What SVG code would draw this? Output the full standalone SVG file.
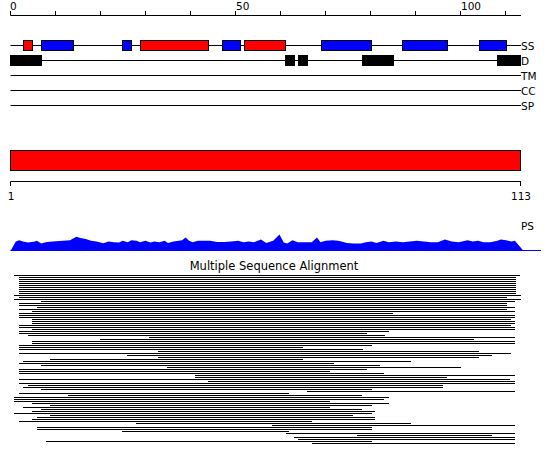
<svg xmlns="http://www.w3.org/2000/svg" width="550" height="465" viewBox="0 0 550 465">
<style>
text{font-family:"DejaVu Sans","Liberation Sans",sans-serif;fill:#000}
.lbl{font-size:10.5px}
.ttl{font-size:11.5px}
.ln{stroke:#000;stroke-width:1;fill:none}
.red{fill:#ff0000;stroke:#000;stroke-width:1}
.blue{fill:#0000ff;stroke:#000;stroke-width:1}
.dis{fill:#000}
</style>
<rect width="550" height="465" fill="#fff"/>
<g id="ruler-top">
<path class="ln" d="M10.5 15.5H521M10.5 11V15.5M55.5 11V15.5M100.5 11V15.5M145.5 11V15.5M190.5 11V15.5M235.5 11V15.5M280.5 11V15.5M325.5 11V15.5M370.5 11V15.5M415.5 11V15.5M460.5 11V15.5M505.5 11V15.5"/>
<text class="lbl" x="10" y="10">0</text>
<text class="lbl" x="236" y="10">50</text>
<text class="lbl" x="461" y="10">100</text>
</g>
<g id="track-ss">
<path class="ln" d="M10.5 45.5H521"/>
<rect class="red" x="23.5" y="40.5" width="9" height="10"/>
<rect class="blue" x="41.5" y="40.5" width="32" height="10"/>
<rect class="blue" x="122.5" y="40.5" width="9" height="10"/>
<rect class="red" x="140.5" y="40.5" width="68" height="10"/>
<rect class="blue" x="222.5" y="40.5" width="18" height="10"/>
<rect class="red" x="244.5" y="40.5" width="41" height="10"/>
<rect class="blue" x="321.5" y="40.5" width="50" height="10"/>
<rect class="blue" x="402.5" y="40.5" width="45" height="10"/>
<rect class="blue" x="479.5" y="40.5" width="27" height="10"/>
<text class="lbl" x="521" y="50">SS</text>
</g>
<g id="track-d">
<path class="ln" d="M10.5 60.5H521"/>
<rect class="dis" x="10" y="55" width="32" height="11"/>
<rect class="dis" x="285" y="55" width="10" height="11"/>
<rect class="dis" x="298" y="55" width="10" height="11"/>
<rect class="dis" x="362" y="55" width="32" height="11"/>
<rect class="dis" x="497" y="55" width="24" height="11"/>
<text class="lbl" x="521" y="65">D</text>
</g>
<g id="track-tm">
<path class="ln" d="M10.5 75.5H521"/>
<text class="lbl" x="521" y="80">TM</text>
</g>
<g id="track-cc">
<path class="ln" d="M10.5 90.5H521"/>
<text class="lbl" x="521" y="95">CC</text>
</g>
<g id="track-sp">
<path class="ln" d="M10.5 105.5H521"/>
<text class="lbl" x="521" y="110">SP</text>
</g>
<g id="domain-bar">
<rect class="red" x="10.5" y="150.5" width="510" height="20"/>
</g>
<g id="ruler-bottom">
<path class="ln" d="M10.5 181.5H521M10.5 181.5V186M520.5 181.5V186"/>
<text class="lbl" x="11" y="200" text-anchor="middle">1</text>
<text class="lbl" x="521" y="200" text-anchor="middle">113</text>
</g>
<g id="ps-profile">
<polygon fill="#0000ff" points="10.5,251 15.8,241.5 19.3,240.2 22.8,241.5 28,242.6 35,241.5 36.8,240.8 41.3,243.6 45.5,242.2 52.5,241.5 63,240.8 70,240.2 76.4,236.7 80.6,238.1 85.8,239.1 91,240.8 96.3,241.5 103.3,243.3 108.6,241.5 113.8,242.2 119.1,242.6 122.6,240.8 127.8,242.2 131.3,240.2 136.6,240.8 140.1,242.2 145.4,240.8 150.6,242.6 154.1,241.5 159.4,242.2 164.6,240.8 168.1,242.9 173.4,241.5 178.6,240.8 182.1,240.2 185.6,237.4 189.1,240.8 192.6,242.2 197.9,240.8 203.2,240.8 210.2,240.8 217.2,241.9 224.2,241.9 231.2,241.5 238.2,240.8 243.4,242.2 248.7,241.5 253.9,242.2 260.9,239.5 266.2,242.9 273.2,240.8 279.5,234.6 283.7,242.6 287.2,243.6 292.5,240.2 297.7,242.2 304.7,242.2 311.7,242.2 317,237.4 320.5,242.2 325.7,240.8 332.7,240.2 338,240.8 341.5,241.5 346.8,242.9 353.8,243.6 360.8,243.6 366,242.2 371.3,241.5 376.5,242.9 383.5,240.8 388.8,242.2 395.8,241.5 402.8,242.2 409.8,241.5 416.8,240.8 423.8,241.5 430.8,242.2 437.8,242.2 444.8,239.5 451.8,241.5 458.8,242.2 467.6,240.2 472.9,241.5 478.1,240.8 483.4,242.2 490.4,242.2 497.4,240.8 500.9,239.5 506.1,240.2 511.4,241.5 514.9,240.8 523.6,251"/>
<path d="M10.5 250.5H541" stroke="#0000ff" stroke-width="1" fill="none"/>
<text class="lbl" x="521" y="230">PS</text>
</g>
<g id="msa">
<text class="ttl" x="274" y="270" text-anchor="middle">Multiple Sequence Alignment</text>
<path class="ln" d="M14 275.5H520M19 277.5H516M19 279.5H516M19 281.5H516M19 283.5H516M19 285.5H516M19 287.5H516M19 289.5H516M19 291.5H516M19 293.5H516M14 295.5H521M19 297.5H507M14 299.5H521M41 301.5H515M19 303.5H507M19 305.5H507M37 307.5H515M19 309.5H507M32 311.5H515M19 313.5H393M19 315.5H515M19 317.5H515M32 319.5H511M32 321.5H515M32 323.5H515M19 325.5H511M19 327.5H515M32 329.5H515M19 331.5H389M19 333.5H367M28 335.5H385M149 337.5H515M100 339.5H474M32 341.5H515M32 343.5H515M19 345.5H372M19 347.5H303M19 349.5H363M158 351.5H479M19 353.5H511M127 355.5H492M158 357.5H479M50 359.5H303M23 361.5H411M19 363.5H334M41 365.5H380M167 367.5H461M19 369.5H367M19 371.5H330M19 373.5H384M195 375.5H515M195 377.5H447M19 379.5H510M208 381.5H515M19 383.5H515M28 385.5H443M23 387.5H443M41 389.5H372M307 391.5H515M19 393.5H289M68 395.5H362M14 397.5H389M14 399.5H384M14 401.5H330M32 403.5H389M50 405.5H372M23 407.5H330M41 409.5H362M32 411.5H375M14 413.5H372M50 415.5H353M37 417.5H375M32 419.5H375M19 421.5H312M136 423.5H411M272 425.5H515M37 427.5H372M37 429.5H372M122 431.5H289M286 433.5H515M357 435.5H492M294 437.5H515M298 439.5H515M46 441.5H372M312 443.5H515"/>
</g>
</svg>
